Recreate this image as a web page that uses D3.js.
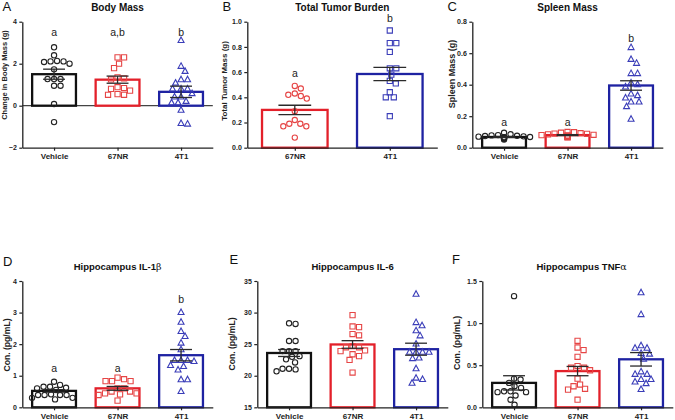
<!DOCTYPE html>
<html><head><meta charset="utf-8">
<script src="https://cdn.jsdelivr.net/npm/d3@7"></script>
<style>
body{margin:0;background:#fff}
svg{display:block}
text{font-family:"Liberation Sans",Arial,Helvetica,sans-serif}
</style>
</head><body>
<svg id="chart" width="675" height="420"></svg>
<script>
// ---------- data ----------
const groups3 = ["Vehicle", "67NR", "4T1"];
const groups2 = ["67NR", "4T1"];

// A: Body Mass (change, g)
const bodyVehicle = [2.78, 2.40, 2.11, 2.08, 2.0, 2.11, 2.13, 1.73, 1.27, 1.27, 1.27, 0.95, 0.95, 0.08, -0.78];
const body67NR    = [2.3, 2.3, 2.0, 1.79, 1.35, 1.3, 1.25, 0.84, 0.8, 0.88, 0.72, 0.55, 0.52, 0.52];
const body4T1     = [3.1, 1.87, 1.63, 1.23, 1.23, 1.07, 0.79, 0.79, 0.79, 0.57, 0.41, 0.41, 0.2, 0.13, 0.13, -0.22, -0.88, -0.85];
const bodyMean = [1.5, 1.24, 0.66];
const bodySem  = [0.24, 0.17, 0.27];
const bodyLetters = ["a", "a,b", "b"];
const bodyTicks = [-2, 0, 2, 4];

// B: Total Tumor Burden (g)
const tumor67NR = [0.49, 0.47, 0.43, 0.41, 0.39, 0.42, 0.29, 0.22, 0.19, 0.17, 0.17, 0.19, 0.08];
const tumor4T1  = [0.93, 0.83, 0.83, 0.76, 0.63, 0.63, 0.58, 0.53, 0.51, 0.44, 0.40, 0.40, 0.25];
const tumorMean = [0.30, 0.585];
const tumorSem  = [0.037, 0.053];
const tumorLetters = ["a", "b"];
const tumorTicks = [0, 0.2, 0.4, 0.6, 0.8, 1.0];

// C: Spleen Mass (g)
const spleenVehicle = [0.095, 0.085, 0.08, 0.078, 0.076, 0.074, 0.072, 0.07, 0.068, 0.066, 0.064, 0.062, 0.06, 0.057, 0.052];
const spleen67NR    = [0.10, 0.098, 0.095, 0.092, 0.09, 0.088, 0.085, 0.082, 0.08, 0.078, 0.075, 0.072, 0.07, 0.068, 0.065];
const spleen4T1     = [0.635, 0.56, 0.535, 0.47, 0.47, 0.41, 0.40, 0.385, 0.34, 0.33, 0.315, 0.29, 0.29, 0.26, 0.18];
const spleenMean = [0.068, 0.08, 0.395];
const spleenSem  = [0.003, 0.003, 0.03];
const spleenLetters = ["a", "a", "b"];
const spleenTicks = [0, 0.2, 0.4, 0.6, 0.8];

// D: Hippocampus IL-1beta (pg/mL)
const il1Vehicle = [0.81, 0.71, 0.65, 0.62, 0.65, 0.6, 0.55, 0.41, 0.39, 0.39, 0.39, 0.39, 0.3, 0.3, 0.25];
const il167NR    = [0.94, 0.89, 0.83, 0.83, 0.83, 0.6, 0.6, 0.5, 0.5, 0.44, 0.44, 0.41, 0.39, 0.21];
const il14T1     = [3.0, 2.69, 2.4, 2.24, 2.03, 1.82, 1.48, 1.45, 1.48, 1.48, 1.32, 1.18, 1.29, 0.87, 0.87, 0.5];
const il1Mean = [0.52, 0.6, 1.65];
const il1Sem  = [0.04, 0.06, 0.18];
const il1Letters = ["a", "a", "b"];
const il1Ticks = [0, 1, 2, 3, 4];

// E: Hippocampus IL-6 (pg/mL)
const il6Vehicle = [28.2, 28.3, 25.5, 25.5, 23.9, 23.9, 23.9, 23.1, 23.0, 22.6, 22.1, 21.1, 21.0, 20.7, 21.1];
const il667NR    = [29.6, 27.7, 27.8, 26.6, 26.4, 24.7, 24.5, 24.5, 23.9, 24.0, 23.4, 23.1, 22.5, 20.5];
const il64T1     = [32.9, 28.4, 27.9, 27.1, 26.3, 25.0, 23.7, 23.7, 23.7, 23.7, 22.8, 22.7, 21.1, 19.6, 18.8, 19.4];
const il6Mean = [23.6, 24.95, 24.2];
const il6Sem  = [0.55, 0.6, 0.95];
const il6Ticks = [15, 20, 25, 30, 35];

// F: Hippocampus TNFalpha (pg/mL)
const tnfVehicle = [1.32, 0.34, 0.33, 0.29, 0.25, 0.23, 0.19, 0.19, 0.18, 0.18, 0.14, 0.09, 0.03];
const tnf67NR    = [0.79, 0.71, 0.68, 0.60, 0.49, 0.47, 0.47, 0.44, 0.34, 0.27, 0.25, 0.22, 0.21, 0.09];
const tnf4T1     = [1.36, 1.10, 0.73, 0.70, 0.70, 0.63, 0.64, 0.57, 0.39, 0.39, 0.42, 0.33, 0.28, 0.30, 0.33, 0.21];
const tnfMean = [0.29, 0.43, 0.57];
const tnfSem  = [0.085, 0.055, 0.08];
const tnfTicks = [0, 0.5, 1.0, 1.5];

// ---------- styles ----------
const barColor = {"Vehicle": "#111111", "67NR": "#e3202a", "4T1": "#1e22a2"};
const ptColor  = {"Vehicle": "#222222", "67NR": "#e64545", "4T1": "#3a3db8"};

const svg = d3.select("#chart");

function markerPath(shape) {
  if (shape === "circle") return d3.symbol(d3.symbolCircle, 22)();
  if (shape === "square") return "M-2.6,-2.6H2.6V2.6H-2.6Z";
  const s = 6;
  return `M0,${-s*0.6}L${s/2},${s*0.32}L${-s/2},${s*0.32}Z`;
}

function swarm(vals, y, D) {
  const pts = vals.map(v => ({v: v, y: y(v), dx: 0}));
  const order = pts.slice().sort((a, b) => a.y - b.y);
  const placed = [];
  const cands = [0];
  for (let k = 1; k <= 60; k++) cands.push(k * 0.5, -k * 0.5);
  for (const p of order) {
    for (const c of cands) {
      if (placed.every(q => (q.dx - c) ** 2 + (q.y - p.y) ** 2 >= D * D)) { p.dx = c; break; }
    }
    placed.push(p);
  }
  return pts;
}

function panel(cfg) {
  const g = svg.append("g");
  const x = d3.scalePoint().domain(cfg.groups).range([cfg.left, cfg.right]).padding(0.5);
  const y = d3.scaleLinear().domain(cfg.domain).range([cfg.bottom, cfg.top]);
  const barW = x.step() * 0.69;
  const capW = barW * 0.5;
  const base = cfg.domain[0] < 0 ? 0 : cfg.domain[0];

  // zero line
  if (cfg.domain[0] < 0) {
    g.append("line").attr("x1", cfg.left).attr("x2", cfg.right)
      .attr("y1", y(0)).attr("y2", y(0)).attr("stroke", "#444").attr("stroke-width", 1.3);
  }

  // bars
  g.selectAll(".bar").data(cfg.groups).enter().append("rect")
    .attr("x", d => x(d) - barW / 2)
    .attr("y", (d, i) => y(Math.max(cfg.means[i], base)))
    .attr("width", barW)
    .attr("height", (d, i) => Math.abs(y(base) - y(cfg.means[i])))
    .attr("fill", "#fff")
    .attr("stroke", d => barColor[d])
    .attr("stroke-width", 2.3);

  // points
  cfg.groups.forEach((grp, i) => {
    const pts = swarm(cfg.values[i], y, 6.4);
    g.selectAll(null).data(pts).enter().append("path")
      .attr("d", markerPath(cfg.shapes[i]))
      .attr("transform", p => `translate(${x(grp) + p.dx},${p.y})`)
      .attr("fill", "none")
      .attr("stroke", ptColor[grp])
      .attr("stroke-width", 1.1);
  });

  // error bars
  cfg.groups.forEach((grp, i) => {
    const cx = x(grp), m = cfg.means[i], s = cfg.sems[i];
    const eg = g.append("g").attr("stroke", "#2a2a2a").attr("stroke-width", 1.3);
    eg.append("line").attr("x1", cx).attr("x2", cx).attr("y1", y(m - s)).attr("y2", y(m + s));
    eg.append("line").attr("x1", cx - capW / 2).attr("x2", cx + capW / 2).attr("y1", y(m + s)).attr("y2", y(m + s));
    eg.append("line").attr("x1", cx - capW / 2).attr("x2", cx + capW / 2).attr("y1", y(m - s)).attr("y2", y(m - s));
  });

  // axes
  const ya = g.append("g").attr("transform", `translate(${cfg.left},0)`)
    .call(d3.axisLeft(y).tickValues(cfg.ticks).tickFormat(d3.format(cfg.fmt)).tickSize(3).tickSizeOuter(0).tickPadding(2.5));
  const xa = g.append("g").attr("transform", `translate(0,${cfg.bottom})`)
    .call(d3.axisBottom(x).tickSize(3).tickSizeOuter(0).tickPadding(3));
  [ya, xa].forEach(a => {
    a.select(".domain").attr("stroke", "#222").attr("stroke-width", 1.3);
    a.selectAll(".tick line").attr("stroke", "#222").attr("stroke-width", 1.2);
    a.selectAll("text").attr("fill", "#222").attr("font-weight", "bold")
      .attr("font-family", '"Liberation Sans",Arial,sans-serif');
  });
  ya.selectAll("text").attr("font-size", 7);
  xa.selectAll("text").attr("font-size", 8);

  // y label
  g.append("text")
    .attr("transform", `translate(${cfg.ylabX},${cfg.ylabY}) rotate(-90)`)
    .attr("text-anchor", "middle").attr("font-weight", "bold")
    .attr("font-size", cfg.ylabSize).attr("fill", "#222").text(cfg.ylabel);

  // title
  const t = g.append("text").attr("x", (cfg.left + cfg.right) / 2 + (cfg.titleDx || 0)).attr("y", cfg.titleY)
    .attr("text-anchor", "middle").attr("font-weight", "bold").attr("font-size", cfg.titleSize).attr("fill", "#111");
  t.append("tspan").text(cfg.title);
  if (cfg.greek) t.append("tspan").attr("font-weight", "normal").attr("font-family", '"DejaVu Serif",serif').text(cfg.greek);

  // panel letter
  g.append("text").attr("x", cfg.letterX).attr("y", cfg.letterY)
    .attr("font-size", 13).attr("fill", "#111").text(cfg.panelLetter);

  // significance letters
  if (cfg.sig) {
    cfg.groups.forEach((grp, i) => {
      g.append("text").attr("x", x(grp)).attr("y", y(cfg.sigLevel[i]))
        .attr("text-anchor", "middle").attr("font-size", 10.5).attr("fill", "#222").text(cfg.sig[i]);
    });
  }
}

panel({groups: groups3, values: [bodyVehicle, body67NR, body4T1], means: bodyMean, sems: bodySem,
  shapes: ["circle", "square", "triangle"], left: 22.3, right: 212.8, top: 21.7, bottom: 147.7,
  domain: [-2, 4], ticks: bodyTicks, fmt: "d", ylabel: "Change in Body Mass (g)", ylabSize: 7.5, ylabX: 7, ylabY: 75,
  title: "Body Mass", titleSize: 10, titleY: 10.5, panelLetter: "A", letterX: 2.5, letterY: 11.3,
  sig: bodyLetters, sigLevel: [3.34, 3.34, 3.34]});

panel({groups: groups2, values: [tumor67NR, tumor4T1], means: tumorMean, sems: tumorSem,
  shapes: ["circle", "square"], left: 247.3, right: 437.3, top: 21.7, bottom: 147.7,
  domain: [0, 1], ticks: tumorTicks, fmt: ".1f", ylabel: "Total Tumor Mass (g)", ylabSize: 8, ylabX: 227, ylabY: 81,
  title: "Total Tumor Burden", titleSize: 10, titleY: 10.5, panelLetter: "B", letterX: 222.5, letterY: 11.3,
  sig: tumorLetters, sigLevel: [0.559, 0.998]});

panel({groups: groups3, values: [spleenVehicle, spleen67NR, spleen4T1], means: spleenMean, sems: spleenSem,
  shapes: ["circle", "square", "triangle"], left: 472.3, right: 662.8, top: 21.7, bottom: 147.7,
  domain: [0, 0.8], ticks: spleenTicks, fmt: ".1f", ylabel: "Spleen Mass (g)", ylabSize: 9, ylabX: 454.5, ylabY: 74,
  title: "Spleen Mass", titleSize: 10, titleY: 10.5, panelLetter: "C", letterX: 447.5, letterY: 11.3,
  sig: spleenLetters, sigLevel: [0.138, 0.138, 0.671]});

panel({groups: groups3, values: [il1Vehicle, il167NR, il14T1], means: il1Mean, sems: il1Sem,
  shapes: ["circle", "square", "triangle"], left: 22.3, right: 212.8, top: 281, bottom: 407.3,
  domain: [0, 4], ticks: il1Ticks, fmt: "d", ylabel: "Con. (pg/mL)", ylabSize: 8.6, ylabX: 10, ylabY: 345,
  title: "Hippocampus IL-1", greek: "β", titleSize: 9.5, titleY: 270, panelLetter: "D", letterX: 3, letterY: 265.5,
  sig: il1Letters, sigLevel: [1.127, 1.127, 3.31]});

panel({groups: groups3, values: [il6Vehicle, il667NR, il64T1], means: il6Mean, sems: il6Sem,
  shapes: ["circle", "square", "triangle"], left: 257.3, right: 447.8, top: 281, bottom: 407.3,
  domain: [15, 35], ticks: il6Ticks, fmt: "d", ylabel: "Con. (pg/mL)", ylabSize: 8.6, ylabX: 235, ylabY: 344,
  title: "Hippocampus IL-6", titleSize: 9.5, titleY: 270, panelLetter: "E", letterX: 229.5, letterY: 264});

panel({groups: groups3, values: [tnfVehicle, tnf67NR, tnf4T1], means: tnfMean, sems: tnfSem,
  shapes: ["circle", "square", "triangle"], left: 482.3, right: 672.8, top: 281, bottom: 407.3,
  domain: [0, 1.5], ticks: tnfTicks, fmt: ".1f", ylabel: "Con. (pg/mL)", ylabSize: 8.8, ylabX: 459.5, ylabY: 343,
  title: "Hippocampus TNF", greek: "α", titleSize: 9.5, titleY: 270, titleDx: 4, panelLetter: "F", letterX: 452, letterY: 264});
</script>
</body></html>
